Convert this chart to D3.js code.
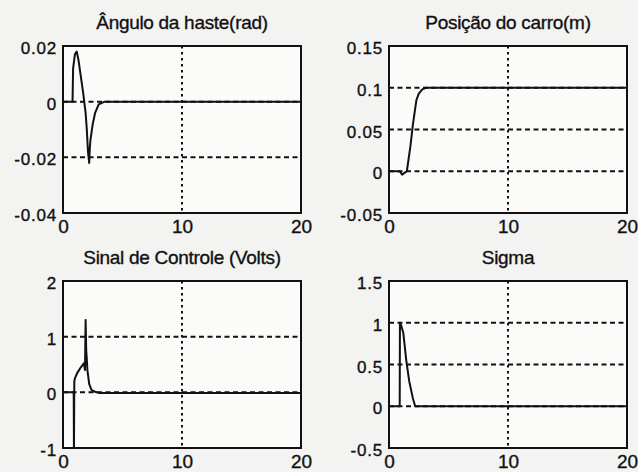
<!DOCTYPE html>
<html>
<head>
<meta charset="utf-8">
<script src="https://cdn.jsdelivr.net/npm/d3@7"></script>
<style>
  body { margin: 0; background: #f3f3f1; }
  svg { display: block; font-family: "Liberation Sans", Arial, sans-serif; }
  text { stroke: #111; stroke-width: 0.35px; }
</style>
</head>
<body>
<svg width="638" height="472"></svg>
<script>
// time axis shared by all four subplots
const xTicks = [0, 10, 20]

// Ângulo da haste (rad)
const tTheta = [0, 0.8, 0.85, 1.0, 1.15, 1.3, 1.5, 1.7, 1.9, 2.0, 2.1, 2.2, 2.25, 2.3, 2.5, 2.7, 3.0, 3.5, 20]
const theta  = [0, 0, 0.012, 0.017, 0.018, 0.015, 0.009, 0.003, -0.004, -0.010, -0.018, -0.022, -0.017, -0.014, -0.008, -0.004, -0.001, 0, 0]
const thetaTicks = [-0.04, -0.02, 0, 0.02]

// Posição do carro (m)
const tPos = [0, 0.9, 1.1, 1.3, 1.5, 1.8, 2.0, 2.2, 2.3, 2.5, 2.8, 3.1, 20]
const pos  = [0, 0, -0.004, -0.002, 0, 0.03, 0.055, 0.075, 0.085, 0.093, 0.098, 0.1, 0.1]
const posTicks = [-0.05, 0, 0.05, 0.1, 0.15]

// Sinal de Controle (Volts)
const tU = [0, 0.9, 0.92, 0.95, 1.0, 1.2, 1.5, 1.75, 1.85, 1.9, 1.95, 2.0, 2.05, 2.2, 2.4, 2.7, 3.0, 20]
const u  = [0, 0, -1.1, 0.2, 0.25, 0.35, 0.45, 0.52, 0.4, 1.3, 0.75, 0.6, 0.4, 0.15, 0.04, 0.01, -0.01, -0.01]
const uTicks = [-1, 0, 1, 2]

// Sigma
const tSigma = [0, 0.9, 0.92, 1.0, 1.2, 1.3, 1.45, 1.7, 2.0, 2.2, 20]
const sigma  = [0, 0, 1, 0.98, 0.88, 0.75, 0.55, 0.3, 0.1, 0, 0]
const sigmaTicks = [-0.5, 0, 0.5, 1, 1.5]

const panels = [
  {title: "Ângulo da haste(rad)", t: tTheta, y: theta, ticks: thetaTicks, left: 63, top: 46},
  {title: "Posição do carro(m)", t: tPos, y: pos, ticks: posTicks, left: 389, top: 46},
  {title: "Sinal de Controle (Volts)", t: tU, y: u, ticks: uTicks, left: 63, top: 281},
  {title: "Sigma", t: tSigma, y: sigma, ticks: sigmaTicks, left: 389, top: 281}
]
const pw = 238, ph = 167

let svg = d3.select("svg")

panels.forEach((p, i) => {
  let g = svg.append("g").attr("transform", `translate(${p.left},${p.top})`)

  let x = d3.scaleLinear().domain([xTicks[0], xTicks[xTicks.length - 1]]).range([0, pw])
  let y = d3.scaleLinear().domain([p.ticks[0], p.ticks[p.ticks.length - 1]]).range([ph, 0])

  g.append("rect").attr("width", pw).attr("height", ph).attr("fill", "#fbfbf9")

  // clip
  svg.append("clipPath").attr("id", "clip" + i)
    .append("rect").attr("width", pw).attr("height", ph)

  // grid
  g.selectAll(".vg").data(xTicks.slice(1, -1)).join("line")
    .attr("x1", d => x(d)).attr("x2", d => x(d))
    .attr("y1", 0).attr("y2", ph)
    .attr("stroke", "#111").attr("stroke-width", 2).attr("stroke-dasharray", "2.5,3.5")
  g.selectAll(".hg").data(p.ticks.slice(1, -1)).join("line")
    .attr("x1", 0).attr("x2", pw)
    .attr("y1", d => y(d)).attr("y2", d => y(d))
    .attr("stroke", "#111").attr("stroke-width", 2).attr("stroke-dasharray", "5,3.5")

  // data
  let line = d3.line().x((d, k) => x(p.t[k])).y(d => y(d))
  g.append("path").datum(p.y)
    .attr("clip-path", `url(#clip${i})`)
    .attr("d", line)
    .attr("fill", "none").attr("stroke", "#111").attr("stroke-width", 2)
    .attr("stroke-linejoin", "round")

  // frame
  g.append("rect").attr("width", pw).attr("height", ph)
    .attr("fill", "none").attr("stroke", "#111").attr("stroke-width", 2)

  // axes
  let xAxis = g.append("g").attr("transform", `translate(0,${ph})`)
    .call(d3.axisBottom(x).tickValues(xTicks).tickSize(0).tickPadding(7).tickFormat(d => String(d)))
  xAxis.select(".domain").remove()
  xAxis.selectAll("text").attr("font-size", 19).attr("fill", "#111")
    .attr("font-family", "'Liberation Sans', Arial, sans-serif")

  let yAxis = g.append("g")
    .call(d3.axisLeft(y).tickValues(p.ticks).tickSize(0).tickPadding(6).tickFormat(d => String(d)))
  yAxis.select(".domain").remove()
  yAxis.selectAll("text").attr("font-size", 17).attr("fill", "#111")
    .attr("letter-spacing", "0.8px").attr("dy", "0.45em")
    .attr("font-family", "'Liberation Sans', Arial, sans-serif")

  g.append("text").attr("x", pw / 2).attr("y", -17)
    .attr("text-anchor", "middle").attr("font-size", 19).attr("fill", "#111")
    .attr("letter-spacing", "-0.3px")
    .text(p.title)
})
</script>
</body>
</html>
